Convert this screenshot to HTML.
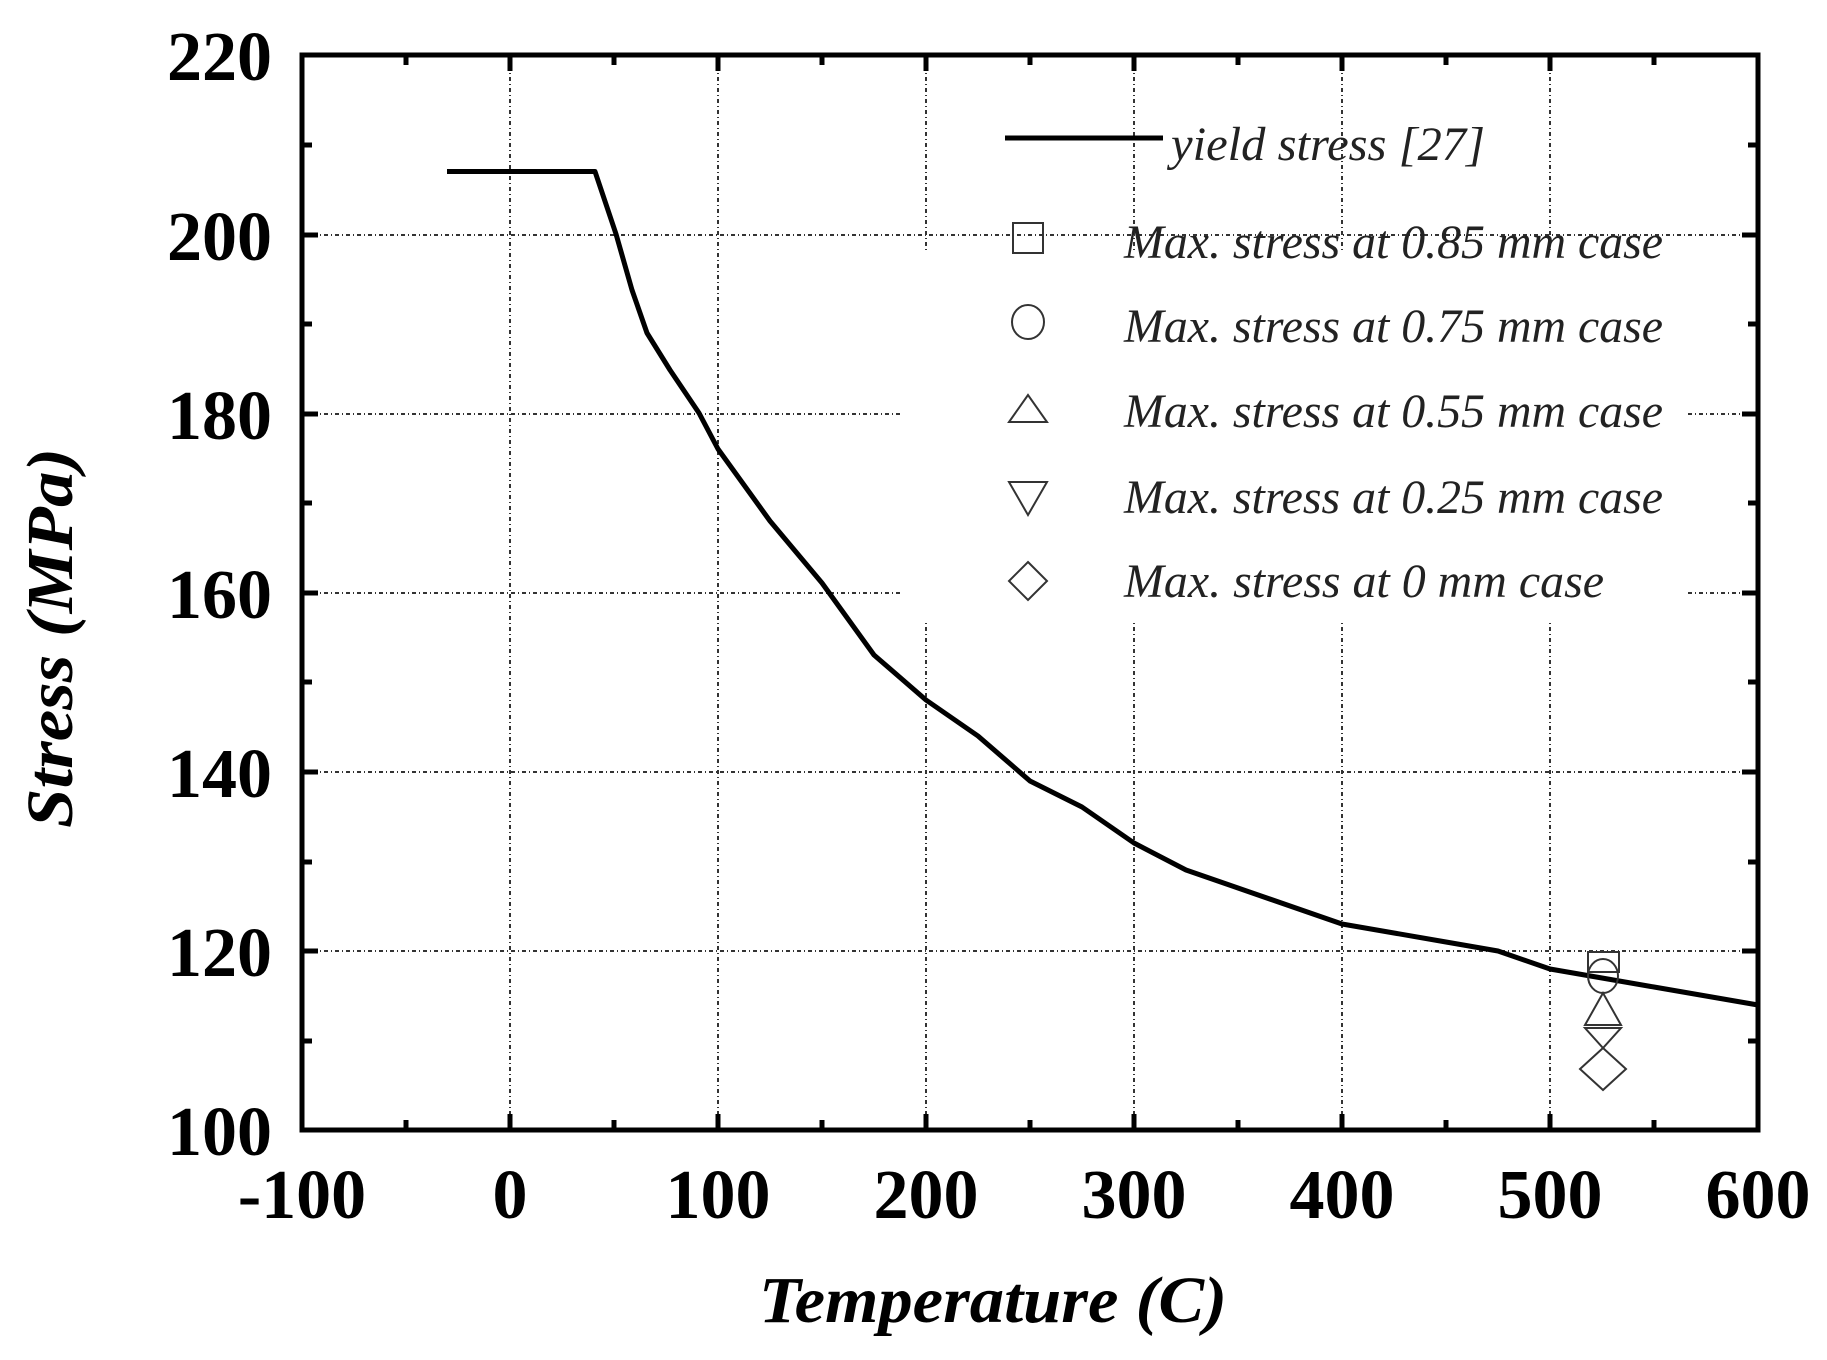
<!DOCTYPE html>
<html><head><meta charset="utf-8"><style>html,body{margin:0;padding:0;background:#fff}svg{display:block}</style></head>
<body>
<svg width="1827" height="1360" viewBox="0 0 1827 1360" xmlns="http://www.w3.org/2000/svg">
<rect width="1827" height="1360" fill="#fff"/>
<g stroke="#333" stroke-width="2" stroke-dasharray="4,3,1,3" fill="none">
<line x1="510" y1="55" x2="510" y2="1130"/>
<line x1="718" y1="55" x2="718" y2="1130"/>
<line x1="926" y1="55" x2="926" y2="1130"/>
<line x1="1134" y1="55" x2="1134" y2="1130"/>
<line x1="1342" y1="55" x2="1342" y2="1130"/>
<line x1="1550" y1="55" x2="1550" y2="1130"/>
<line x1="302" y1="235" x2="1758" y2="235"/>
<line x1="302" y1="414" x2="1758" y2="414"/>
<line x1="302" y1="593" x2="1758" y2="593"/>
<line x1="302" y1="772" x2="1758" y2="772"/>
<line x1="302" y1="951" x2="1758" y2="951"/>
</g>
<rect x="902" y="252" width="786" height="368" fill="#fff"/>
<polyline fill="none" stroke="#000" stroke-width="5" stroke-linejoin="round"
points="447,171.5 595,171.5 616,234 632,290 647,333 670,370 699,413 718,449 770,521 822,583 874,655 926,700 978,736 1030,781 1082,807 1134,843 1186,870 1238,888 1342,924 1446,942 1498,951 1550,969 1602,978 1654,987 1758,1005"/>
<g fill="none" stroke="#333" stroke-width="2">
<rect x="1588" y="952" width="31" height="20"/>
<ellipse cx="1603" cy="976" rx="15" ry="17"/>
<polygon points="1603,993 1585,1025 1621,1025"/>
<polygon points="1585,1028 1621,1028 1603,1048"/>
<polygon points="1603,1048 1626,1069 1603,1090 1580,1069"/>
</g>
<rect x="302" y="55" width="1456" height="1075" fill="none" stroke="#000" stroke-width="5"/>
<g stroke="#000" stroke-width="5">
<path d="M510,1130v-16M718,1130v-16M926,1130v-16M1134,1130v-16M1342,1130v-16M1550,1130v-16M510,55v16M718,55v16M926,55v16M1134,55v16M1342,55v16M1550,55v16"/>
<path d="M406,1130v-10M614,1130v-10M822,1130v-10M1030,1130v-10M1238,1130v-10M1446,1130v-10M1654,1130v-10M406,55v10M614,55v10M822,55v10M1030,55v10M1238,55v10M1446,55v10M1654,55v10"/>
<path d="M302,235h16M302,414h16M302,593h16M302,772h16M302,951h16M1758,235h-16M1758,414h-16M1758,593h-16M1758,772h-16M1758,951h-16"/>
<path d="M302,145h10M302,324h10M302,503h10M302,682h10M302,862h10M302,1041h10M1758,145h-10M1758,324h-10M1758,503h-10M1758,682h-10M1758,862h-10M1758,1041h-10"/>
</g>
<g font-family="Liberation Serif, serif" font-weight="bold" font-size="70" text-anchor="end">
<text x="272" y="80">220</text>
<text x="272" y="260">200</text>
<text x="272" y="439">180</text>
<text x="272" y="618">160</text>
<text x="272" y="797">140</text>
<text x="272" y="976">120</text>
<text x="272" y="1155">100</text>
</g>
<g font-family="Liberation Serif, serif" font-weight="bold" font-size="70" text-anchor="middle">
<text x="302" y="1218">-100</text>
<text x="510" y="1218">0</text>
<text x="718" y="1218">100</text>
<text x="926" y="1218">200</text>
<text x="1134" y="1218">300</text>
<text x="1342" y="1218">400</text>
<text x="1550" y="1218">500</text>
<text x="1758" y="1218">600</text>
</g>
<text x="993" y="1322" font-family="Liberation Serif, serif" font-weight="bold" font-style="italic" font-size="66" text-anchor="middle" textLength="468" lengthAdjust="spacingAndGlyphs">Temperature (C)</text>
<text transform="translate(72,638) rotate(-90)" font-family="Liberation Serif, serif" font-weight="bold" font-style="italic" font-size="66" text-anchor="middle" textLength="380" lengthAdjust="spacingAndGlyphs">Stress (MPa)</text>
<line x1="1005" y1="138" x2="1163" y2="138" stroke="#000" stroke-width="5"/>
<g font-family="Liberation Serif, serif" font-style="italic" font-size="48" fill="#222">
<text x="1171" y="160" textLength="314" lengthAdjust="spacingAndGlyphs">yield stress [27]</text>
<text x="1124" y="258" textLength="539" lengthAdjust="spacingAndGlyphs">Max. stress at 0.85 mm case</text>
<text x="1124" y="342" textLength="539" lengthAdjust="spacingAndGlyphs">Max. stress at 0.75 mm case</text>
<text x="1124" y="427" textLength="539" lengthAdjust="spacingAndGlyphs">Max. stress at 0.55 mm case</text>
<text x="1124" y="513" textLength="539" lengthAdjust="spacingAndGlyphs">Max. stress at 0.25 mm case</text>
<text x="1124" y="597" textLength="480" lengthAdjust="spacingAndGlyphs">Max. stress at 0 mm case</text>
</g>
<g fill="none" stroke="#333" stroke-width="2">
<rect x="1013" y="223" width="30" height="30"/>
<ellipse cx="1028" cy="322" rx="16" ry="17"/>
<polygon points="1028,395 1009,422 1047,422"/>
<polygon points="1009,482 1047,482 1028,515"/>
<polygon points="1028,562 1047,581 1028,600 1009,581"/>
</g>
</svg>
</body></html>
